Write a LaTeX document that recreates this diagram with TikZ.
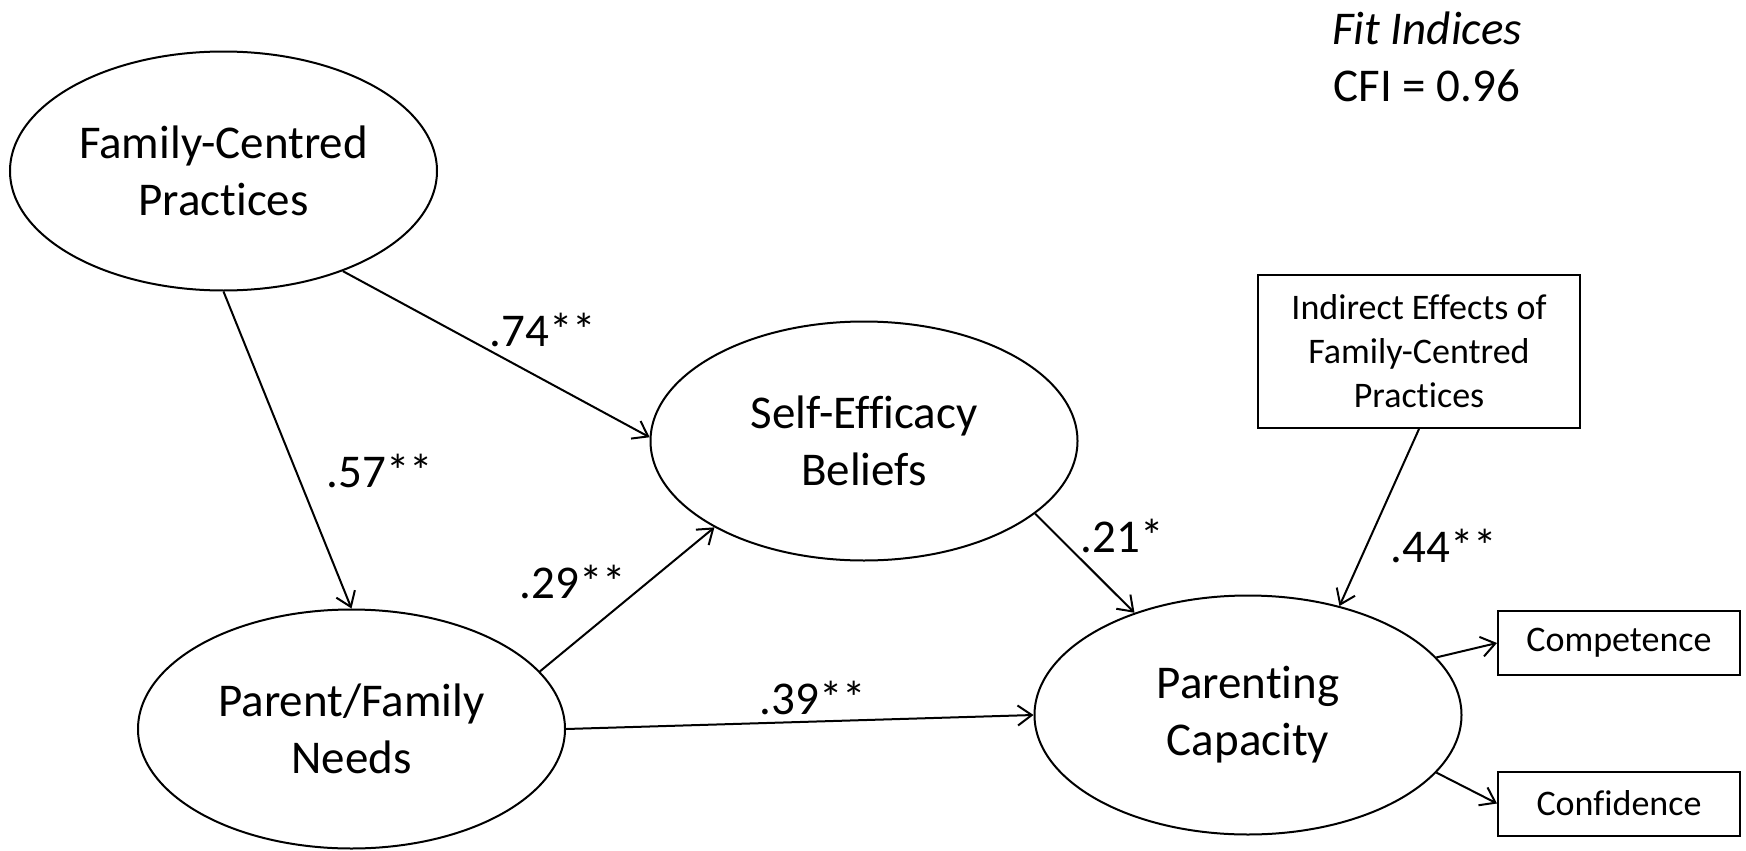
\documentclass[tikz,border=0pt]{standalone}
\usepackage{fontspec}
\setmainfont[Ligatures=NoCommon]{Carlito}
\usetikzlibrary{arrows.meta,shapes.geometric}

\begin{document}
\begin{tikzpicture}[x=0.5pt,y=-0.5pt,
    latent/.style={draw,ellipse,line width=1pt,minimum width=213.5pt,
      minimum height=119.5pt,inner sep=0pt,align=center,
      font=\fontsize{23.5}{28.5}\selectfont},
    indicator/.style={draw,rectangle,line width=1pt,inner sep=0pt,
      align=center,font=\fontsize{18}{22}\selectfont},
    coef/.style={inner sep=0pt,font=\fontsize{23.5}{28.5}\selectfont}]
  \useasboundingbox (0,0) rectangle (1746,851);
  \draw
    (223.5,171) node[latent] (fcp) {Family-Centred\\Practices}
    (864,441) node[latent] (seb) {Self-Efficacy\\Beliefs}
    (351.5,729) node[latent] (pfn) {Parent/Family\\Needs}
    (1248,715) node[latent] (pc) {Parenting\\Capacity}
    (1419,351.5) node[indicator,minimum width=161pt,minimum height=76.5pt] (ind)
      {Indirect Effects of\\Family-Centred\\Practices}
    (1619,643) node[indicator,minimum width=121pt,minimum height=32pt] (comp) {Competence}
    (1619,803.5) node[indicator,minimum width=121pt,minimum height=32pt] (conf) {Confidence}
    (1427,57) node[coef,align=center] (fit) {\textit{Fit Indices}\\CFI = 0.96};
  \begin{scope}[-{Straight Barb[length=7pt,width=10pt]},line width=1pt]
    \draw (fcp.south) to (pfn.north);
    \draw (fcp.-40) to (seb.179);
    \draw (pfn.17) to (seb.-150);
    \draw (pfn.east) to (pc.west);
    \draw (seb.-23) to (pc.138);
    \draw (ind.south) to (pc.50);
    \draw (pc.17) to (comp.west);
    \draw (pc.-17) to (conf.west);
  \end{scope}
  \draw
    (543,330) node[coef] (b74) {.74**}
    (380,471) node[coef] (b57) {.57**}
    (573,582) node[coef] (b29) {.29**}
    (813,698) node[coef] (b39) {.39**}
    (1122,536) node[coef] (b21) {.21*}
    (1444,546) node[coef] (b44) {.44**};
\end{tikzpicture}
\end{document}
